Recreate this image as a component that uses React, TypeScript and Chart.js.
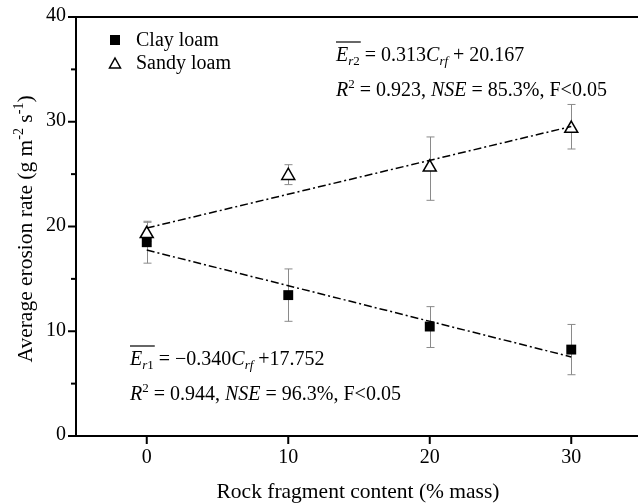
import React, { useEffect, useRef } from "react";
import { Chart, registerables } from "chart.js";

Chart.register(...registerables);

const rockContent = [0, 10, 20, 30];
const clayMean = [18.5, 13.45, 10.45, 8.25];
const clayUpper = [20.4, 15.95, 12.35, 10.65];
const clayLower = [16.5, 10.95, 8.45, 5.85];
const sandyMean = [19.3, 24.85, 25.65, 29.35];
const sandyUpper = [20.5, 25.9, 28.55, 31.65];
const sandyLower = [18.6, 24.0, 22.5, 27.4];
const fitX = [0, 30];
const clayFit = [17.75, 7.55];
const sandyFit = [19.85, 29.55];
const xTicks = [0, 10, 20, 30];
const yMajorTicks = [0, 10, 20, 30, 40];
const yMinorTicks = [5, 15, 25, 35];

const SERIF = "'Liberation Serif', 'Times New Roman', serif";

type Seg = { t: string; f: string; dy?: number };

function drawSegs(ctx: CanvasRenderingContext2D, x: number, y: number, segs: Seg[]) {
  ctx.textBaseline = "alphabetic";
  ctx.textAlign = "left";
  let cx = x;
  for (const s of segs) {
    ctx.font = s.f;
    ctx.fillText(s.t, cx, y + (s.dy || 0));
    cx += ctx.measureText(s.t).width;
  }
}

const R = `20px ${SERIF}`;
const I = `italic 20px ${SERIF}`;
const SR = `13px ${SERIF}`;
const SI = `italic 13px ${SERIF}`;
const TR = `21.5px ${SERIF}`;
const TS = `14px ${SERIF}`;

function drawEq(ctx: CanvasRenderingContext2D, x: number, y: number, idx: string, slope: string, icpt: string) {
  ctx.font = I;
  const wE = ctx.measureText("E").width;
  ctx.font = SI;
  const wr = ctx.measureText("r").width;
  ctx.font = SR;
  const wn = ctx.measureText(idx).width;
  ctx.save();
  ctx.strokeStyle = "#000";
  ctx.lineWidth = 1.2;
  ctx.beginPath();
  ctx.moveTo(x, y - 19);
  ctx.lineTo(x + wE + wr + wn + 1, y - 19);
  ctx.stroke();
  ctx.restore();
  drawSegs(ctx, x, y, [
    { t: "E", f: I },
    { t: "r", f: SI, dy: 4 },
    { t: idx, f: SR, dy: 4 },
    { t: " = " + slope, f: R },
    { t: "C", f: I },
    { t: "rf", f: SI, dy: 4 },
    { t: " +" + icpt, f: R },
  ]);
}

function drawStats(ctx: CanvasRenderingContext2D, x: number, y: number, r2: string, nse: string) {
  drawSegs(ctx, x, y, [
    { t: "R", f: I },
    { t: "2", f: SR, dy: -8 },
    { t: " = " + r2 + ", ", f: R },
    { t: "NSE", f: I },
    { t: " = " + nse + ", F<0.05", f: R },
  ]);
}

const decorPlugin = {
  id: "decor",
  beforeDatasetsDraw(chart: any) {
    const ctx: CanvasRenderingContext2D = chart.ctx;
    const xs = chart.scales.x;
    const ys = chart.scales.y;
    ctx.save();
    ctx.strokeStyle = "#8a8a8a";
    ctx.lineWidth = 1;
    const drawErr = (lo: number[], hi: number[]) => {
      rockContent.forEach((xv, i) => {
        const px = Math.round(xs.getPixelForValue(xv)) + 0.5;
        const pl = ys.getPixelForValue(lo[i]);
        const ph = ys.getPixelForValue(hi[i]);
        ctx.beginPath();
        ctx.moveTo(px, pl);
        ctx.lineTo(px, ph);
        ctx.moveTo(px - 4, pl);
        ctx.lineTo(px + 4, pl);
        ctx.moveTo(px - 4, ph);
        ctx.lineTo(px + 4, ph);
        ctx.stroke();
      });
    };
    drawErr(clayLower, clayUpper);
    drawErr(sandyLower, sandyUpper);
    ctx.restore();
  },
  afterDraw(chart: any) {
    const ctx: CanvasRenderingContext2D = chart.ctx;
    const a = chart.chartArea;
    const xs = chart.scales.x;
    const ys = chart.scales.y;
    ctx.save();
    ctx.fillStyle = "#000";
    ctx.strokeStyle = "#000";
    ctx.lineWidth = 2;
    ctx.beginPath();
    ctx.moveTo(a.left, a.top);
    ctx.lineTo(a.right, a.top);
    ctx.lineTo(a.right, a.bottom);
    ctx.lineTo(a.left, a.bottom);
    ctx.closePath();
    ctx.stroke();
    yMajorTicks.forEach((v) => {
      const py = ys.getPixelForValue(v);
      ctx.beginPath();
      ctx.moveTo(a.left - 8, py);
      ctx.lineTo(a.left, py);
      ctx.stroke();
      ctx.font = R;
      ctx.textAlign = "right";
      ctx.textBaseline = "middle";
      ctx.fillText(String(v), a.left - 10, py - 1);
    });
    yMinorTicks.forEach((v) => {
      const py = ys.getPixelForValue(v);
      ctx.beginPath();
      ctx.moveTo(a.left - 5, py);
      ctx.lineTo(a.left, py);
      ctx.stroke();
    });
    xTicks.forEach((v) => {
      const px = xs.getPixelForValue(v);
      ctx.beginPath();
      ctx.moveTo(px, a.bottom);
      ctx.lineTo(px, a.bottom + 8);
      ctx.stroke();
      ctx.font = R;
      ctx.textAlign = "center";
      ctx.textBaseline = "middle";
      ctx.fillText(String(v), px, a.bottom + 22);
    });
    ctx.font = TR;
    ctx.textAlign = "center";
    ctx.textBaseline = "alphabetic";
    ctx.fillText("Rock fragment content (% mass)", 358, 498);
    const ySegs: Seg[] = [
      { t: "Average erosion rate (g m", f: TR },
      { t: "-2", f: TS, dy: -9 },
      { t: " s", f: TR },
      { t: "-1", f: TS, dy: -9 },
      { t: ")", f: TR },
    ];
    let total = 0;
    ySegs.forEach((s) => {
      ctx.font = s.f;
      total += ctx.measureText(s.t).width;
    });
    ctx.save();
    ctx.translate(32, 229);
    ctx.rotate(-Math.PI / 2);
    drawSegs(ctx, -total / 2, 0, ySegs);
    ctx.restore();
    ctx.fillRect(110, 35, 10, 10);
    ctx.lineWidth = 1.5;
    ctx.beginPath();
    ctx.moveTo(115, 58);
    ctx.lineTo(120.5, 68);
    ctx.lineTo(109.5, 68);
    ctx.closePath();
    ctx.stroke();
    ctx.font = R;
    ctx.textAlign = "left";
    ctx.textBaseline = "middle";
    ctx.fillText("Clay loam", 136, 41);
    ctx.fillText("Sandy loam", 136, 64);
    drawEq(ctx, 336, 61, "2", "0.313", " 20.167");
    drawStats(ctx, 336, 96, "0.923", "85.3%");
    drawEq(ctx, 130, 365, "1", "\u22120.340", "17.752");
    drawStats(ctx, 130, 400, "0.944", "96.3%");
    ctx.restore();
  },
};

export default function App() {
  const ref = useRef<HTMLCanvasElement | null>(null);
  useEffect(() => {
    document.body.style.margin = "0";
    document.body.style.overflow = "hidden";
    const canvas = ref.current!;
    const toPts = (ys: number[], xsArr: number[]) => xsArr.map((x, i) => ({ x, y: ys[i] }));
    const chart = new Chart(canvas, {
      type: "scatter",
      data: {
        datasets: [
          {
            type: "line",
            label: "Clay fit",
            data: toPts(clayFit, fitX),
            borderColor: "#000",
            borderWidth: 1.5,
            borderDash: [8, 3, 2, 3],
            pointRadius: 0,
            fill: false,
          },
          {
            type: "line",
            label: "Sandy fit",
            data: toPts(sandyFit, fitX),
            borderColor: "#000",
            borderWidth: 1.5,
            borderDash: [8, 3, 2, 3],
            pointRadius: 0,
            fill: false,
          },
          {
            label: "Clay loam",
            data: toPts(clayMean, rockContent),
            pointStyle: "rect",
            pointRadius: 7,
            backgroundColor: "#000",
            borderColor: "#000",
            borderWidth: 0,
          },
          {
            label: "Sandy loam",
            data: toPts(sandyMean, rockContent),
            pointStyle: "triangle",
            pointRadius: 7.5,
            backgroundColor: "#fff",
            borderColor: "#000",
            borderWidth: 1.5,
          },
        ],
      } as any,
      options: {
        animation: false,
        responsive: false,
        maintainAspectRatio: false,
        layout: { autoPadding: false, padding: { top: 17, right: 0, left: 0, bottom: 0 } },
        plugins: { legend: { display: false }, tooltip: { enabled: false } },
        scales: {
          x: {
            type: "linear",
            min: -5,
            max: 35,
            ticks: { display: false },
            grid: { display: false },
            border: { display: false },
            afterFit: (s: any) => {
              s.height = 67;
            },
          },
          y: {
            type: "linear",
            min: 0,
            max: 40,
            ticks: { display: false },
            grid: { display: false },
            border: { display: false },
            afterFit: (s: any) => {
              s.width = 76;
            },
          },
        },
      } as any,
      plugins: [decorPlugin],
    });
    return () => chart.destroy();
  }, []);
  return (
    <div style={{ width: 638, height: 503, background: "#fff", overflow: "hidden", position: "relative" }}>
      <canvas ref={ref} width={642} height={503} style={{ display: "block" }} />
    </div>
  );
}
